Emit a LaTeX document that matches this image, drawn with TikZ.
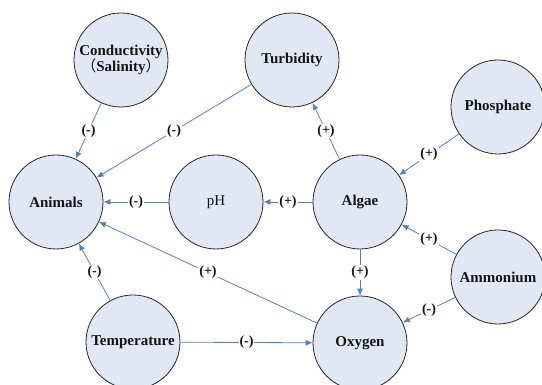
\documentclass[tikz,border=0pt]{standalone}
\usepackage{fontspec}
\setmainfont{Liberation Serif}[BoldFont={Liberation Serif Bold}]
\newfontfamily\cjk{Noto Sans CJK SC}
\usetikzlibrary{arrows.meta}
\definecolor{nodefill}{RGB}{225,232,244}
\definecolor{arrowblue}{RGB}{79,129,189}
\definecolor{txt}{RGB}{20,20,20}
\tikzset{
  var/.style={circle, draw=black!85, line width=0.8pt, fill=nodefill, minimum size=94pt, inner sep=0pt, align=center, text=txt, font=\fontsize{15}{16}\selectfont\bfseries},
  link/.style={draw=arrowblue, line width=0.8pt, -{Latex[length=7pt,width=6pt]}},
  sign/.style={fill=white, inner sep=1pt, text=txt, font=\fontsize{14}{15}\selectfont\bfseries}
}
\begin{document}
\begin{tikzpicture}[x=1pt,y=1pt]
\useasboundingbox (0,0) rectangle (542,385);
\node[var] (cond) at (121,325) {Conductivity\\[-1pt]{\cjk\mdseries （}Salinity{\cjk\mdseries ）}};
\node[var] (turb) at (292,325) {Turbidity};
\node[var] (phos) at (498,278) {Phosphate};
\node[var] (anim) at (56,183) {Animals};
\node[var, font=\fontsize{15}{16}\selectfont] (ph) at (216,183) {pH};
\node[var] (alg) at (360,183) {Algae};
\node[var] (amm) at (498,108) {Ammonium};
\node[var] (temp) at (133,43) {Temperature};
\node[var] (oxy) at (360,42) {Oxygen};

\draw[link] (cond) -- node[sign] {(-)} (anim);
\draw[link] (turb) -- node[sign] {(-)} (anim);
\draw[link] (alg) -- node[sign] {(+)} (turb);
\draw[link] (phos) -- node[sign] {(+)} (alg);
\draw[link] (ph) -- node[sign] {(-)} (anim);
\draw[link] (alg) -- node[sign] {(+)} (ph);
\draw[link] (alg) -- node[sign] {(+)} (oxy);
\draw[link] (amm) -- node[sign] {(+)} (alg);
\draw[link] (amm) -- node[sign] {(-)} (oxy);
\draw[link] (oxy) -- node[sign] {(+)} (anim);
\draw[link] (temp) -- node[sign] {(-)} (anim);
\draw[link] (temp) -- node[sign] {(-)} (oxy);
\end{tikzpicture}
\end{document}
